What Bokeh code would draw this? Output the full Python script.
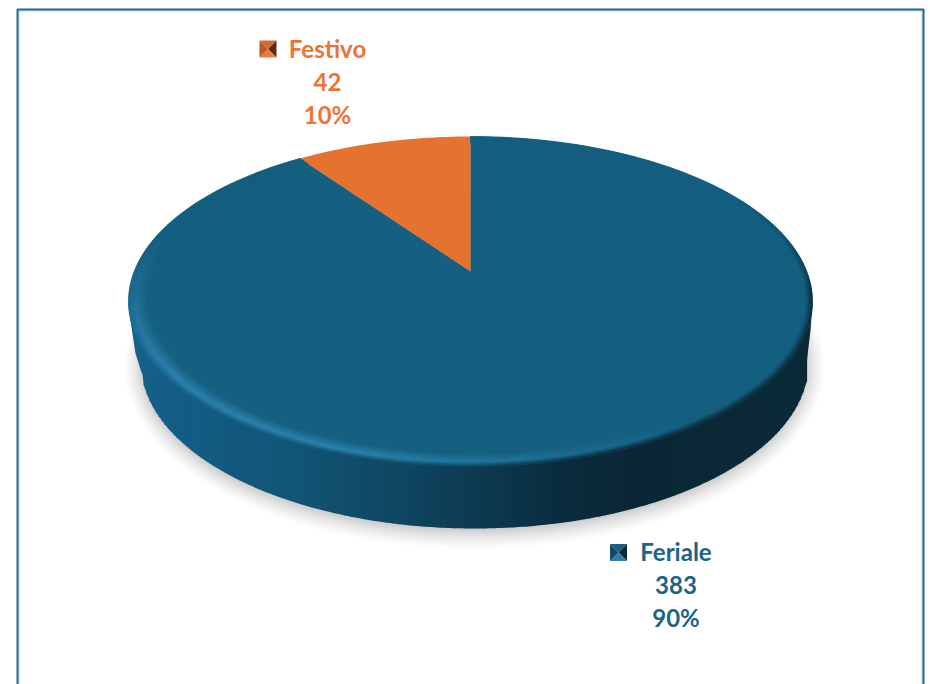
import math
from bokeh.core.properties import value
from bokeh.embed import file_html
from bokeh.models import Range1d
from bokeh.plotting import figure
from bokeh.resources import INLINE

categories = ["Festivo", "Feriale"]
counts = [42, 383]
percents = ["10%", "90%"]
text_colors = ["#EC7434", "#1A6488"]

W, H = 930, 684
p = figure(width=W, height=H, output_backend="svg", toolbar_location=None,
           x_range=Range1d(0, W), y_range=Range1d(H, 0),
           x_axis_location=None, y_axis_location=None, min_border=0,
           outline_line_color=None, background_fill_color="white", border_fill_color="white")
p.grid.visible = False

CX, CY, TOP, BOT, RX = 470, 271, 135, 195, 342
k = (BOT - TOP) / (BOT + TOP)
a = TOP * (1 + k)
b = RX * math.sqrt(1 - k * k)


def proj(t, s=1.0):
    X, Y = s * math.sin(t), s * math.cos(t)
    d = 1 + k * Y
    return CX + b * X / d, CY - a * Y / d


def hx(c):
    return tuple(int(c[i:i + 2], 16) for i in (1, 3, 5))


def mix(c1, c2, f):
    f = max(0.0, min(1.0, f))
    v = [round(c1[i] + (c2[i] - c1[i]) * f) for i in range(3)]
    return "#%02x%02x%02x" % tuple(v)


def ramp(stops, x):
    if x <= stops[0][0]:
        return stops[0][1]
    for (x0, c0), (x1, c1) in zip(stops, stops[1:]):
        if x <= x1:
            return mix(hx(c0), hx(c1), (x - x0) / (x1 - x0))
    return stops[-1][1]


N = 220
tt = [2 * math.pi * i / N for i in range(N + 1)]
BCX, BCY, BRX, BRY = 474, 362, 334, 166

# soft shadow below the disc
for i in range(12):
    f = i / 11
    xs = [BCX + (350 - 18 * f) * math.sin(t) for t in tt]
    ys = [366 + (182 - 18 * f) * math.cos(t) for t in tt]
    p.patch(xs, ys, fill_color="#000000", fill_alpha=0.010 + 0.012 * f, line_color=None)

# side wall, lit from the left
wall_stops = [(128, "#14618a"), (220, "#135a80"), (300, "#115474"), (380, "#0f4966"), (470, "#0d3b52"),
              (560, "#0a2c3d"), (630, "#0a2735"), (812, "#0a2937")]
STEP = 3
edges = [BCX - BRX + i * STEP for i in range(2 * BRX // STEP + 1)]


def bottom(x):
    u = max(-1.0, min(1.0, (x - BCX) / BRX))
    return BCY + BRY * math.sqrt(1 - u * u)


wx, wy, wc = [], [], []
for x0, x1 in zip(edges, edges[1:]):
    wx.append([x0, x1 + 0.6, x1 + 0.6, x0])
    wy.append([290, 290, bottom(x1), bottom(x0)])
    wc.append(ramp(wall_stops, 0.5 * (x0 + x1)))
p.patches(wx, wy, fill_color=wc, line_color=None)
# the flanks between the rim and the bottom ellipse
p.patch([128, 131, 135, 141, 150, 150], [303, 327, 353, 372, 372, 303], fill_color="#14618a", line_color=None)
p.patch([812, 810, 807, 805, 790, 790], [303, 330, 355, 377, 377, 303], fill_color="#0a2937", line_color=None)

# slices
FACE = "#155F80"
ORANGE = "#E5722E"
total = sum(counts)
festivo_angle = 2 * math.pi * counts[0] / total
limit = 2 * math.pi - festivo_angle
feriale_ts = [t for t in tt if t <= limit] + [limit]
pts = [proj(t) for t in feriale_ts]
p.patch([CX] + [q[0] for q in pts], [CY] + [q[1] for q in pts], fill_color=FACE, line_color=FACE, line_width=0.5)
ts = [limit + festivo_angle * i / 30 for i in range(31)]
pts = [proj(t) for t in ts]
p.patch([CX] + [q[0] for q in pts], [CY] + [q[1] for q in pts], fill_color=ORANGE, line_color=None)


# bevel round the rim of the blue face: a blurred edge, with light on the lower left
def rim_color(t, depth):
    deg = math.degrees(t) % 360
    x = proj(t)[0]
    face = hx(FACE)
    light = max(0.0, 1 - abs(deg - 215) / 70)
    high = mix(face, hx("#2d84b0"), light * 1.35)
    if 95 <= deg <= 255:
        edge = ramp(wall_stops, x)
        if deg > 225:
            edge = mix(hx(edge), hx("#1a6c96"), (deg - 225) / 30)
    elif deg > 255:
        edge = mix(hx("#1a6c96"), face, (deg - 255) / 25)
    else:
        edge = mix(face, hx("#0c3346"), max(0.0, 1 - (95 - deg) / 35))
    PEAK = 0.35
    if depth < PEAK:
        return mix(hx(edge), hx(high), depth / PEAK)
    return mix(hx(high), face, (depth - PEAK) / (1 - PEAK))


M = 9
WIDTH = 0.06
rx, ry, rc = [], [], []
for m in range(M):
    s0 = 1 - WIDTH * m / M
    s1 = 1 - WIDTH * (m + 1) / M
    for i in range(N):
        t0, t1 = tt[i], tt[i + 1]
        if t0 >= limit:
            continue
        t1 = min(t1, limit)
        q = [proj(t0, s0), proj(t1, s0), proj(t1, s1), proj(t0, s1)]
        rx.append([c[0] for c in q])
        ry.append([c[1] for c in q])
        rc.append(rim_color(0.5 * (t0 + t1), (m + 0.5) / M))
p.patches(rx, ry, fill_color=rc, line_color=rc, line_width=0.4)

# labels with pyramid-shaped keys
label_xy = [(327, 48), (675.5, 551)]
marker_xy = [(267.5, 48.5), (618, 552)]
marker_tones = [("#cf6c34", "#5c2c12", "#ea7c3c", "#b85a24"), ("#1a5f80", "#0a2a3a", "#2a7ea8", "#0f4a68")]
LINE = 33
FONT = "24px"
for i, cat in enumerate(categories):
    lx, ly = label_xy[i]
    for j, txt in enumerate([cat, str(counts[i]), percents[i]]):
        p.text([lx], [ly + j * LINE], text=[txt], text_color=text_colors[i], text_font=value("Lato"),
               text_font_style="bold", text_font_size=FONT, text_align="center", text_baseline="middle")
    mx, my = marker_xy[i]
    h = 8.5
    corners = [(mx - h, my - h), (mx + h, my - h), (mx + h, my + h), (mx - h, my + h)]
    for j in range(4):
        c0, c1 = corners[j], corners[(j + 1) % 4]
        p.patch([c0[0], c1[0], mx], [c0[1], c1[1], my], fill_color=marker_tones[i][j], line_color=None)

# frame
p.line([18.5, 18.5, 921.5, 921.5], [H, 10.5, 10.5, H], line_color="#b4d0dd", line_width=1)
p.line([17, 17, 923, 923], [H, 9, 9, H], line_color="#1A6A8C", line_width=2)

open("out.html", "w").write(file_html(p, INLINE))
